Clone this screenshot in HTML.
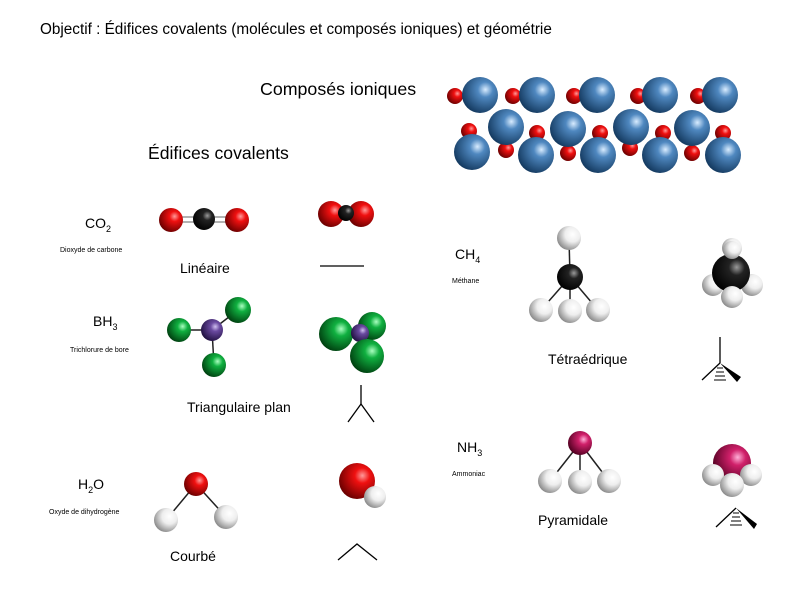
<!DOCTYPE html>
<html><head><meta charset="utf-8"><style>
html,body{margin:0;padding:0;background:#fff;width:800px;height:600px;overflow:hidden}
svg{display:block}
text{font-family:"Liberation Sans",sans-serif;fill:#000}
</style></head><body>
<svg width="800" height="600" xmlns="http://www.w3.org/2000/svg">
<defs>
<radialGradient id="r" cx="0.65" cy="0.35" r="0.7"><stop offset="0" stop-color="#ff9a9a"/><stop offset="0.3" stop-color="#f01010"/><stop offset="1" stop-color="#6a0000"/></radialGradient>
<radialGradient id="b" cx="0.65" cy="0.35" r="0.7"><stop offset="0" stop-color="#d8ecff"/><stop offset="0.3" stop-color="#4f88c0"/><stop offset="1" stop-color="#143a60"/></radialGradient>
<radialGradient id="k" cx="0.65" cy="0.35" r="0.7"><stop offset="0" stop-color="#9a9a9a"/><stop offset="0.3" stop-color="#222"/><stop offset="1" stop-color="#000"/></radialGradient>
<radialGradient id="g" cx="0.65" cy="0.35" r="0.7"><stop offset="0" stop-color="#aaffc0"/><stop offset="0.3" stop-color="#10b040"/><stop offset="1" stop-color="#004010"/></radialGradient>
<radialGradient id="p" cx="0.65" cy="0.35" r="0.7"><stop offset="0" stop-color="#d0c0f0"/><stop offset="0.3" stop-color="#6a4aa0"/><stop offset="1" stop-color="#201040"/></radialGradient>
<radialGradient id="w" cx="0.65" cy="0.35" r="0.7"><stop offset="0" stop-color="#ffffff"/><stop offset="0.45" stop-color="#eeeeee"/><stop offset="1" stop-color="#8a8a8a"/></radialGradient>
<radialGradient id="m" cx="0.65" cy="0.35" r="0.7"><stop offset="0" stop-color="#ffb0d8"/><stop offset="0.3" stop-color="#d0206a"/><stop offset="1" stop-color="#500020"/></radialGradient>
</defs>

<text x="40" y="34" font-size="15.3">Objectif : Édifices covalents (molécules et composés ioniques) et géométrie</text>
<text x="260" y="95" font-size="17.8">Composés ioniques</text>
<text x="148" y="159" font-size="17.6">Édifices covalents</text>

<g>
<circle cx="455" cy="96" r="8" fill="url(#r)"/><circle cx="513" cy="96" r="8" fill="url(#r)"/><circle cx="574" cy="96" r="8" fill="url(#r)"/><circle cx="638" cy="96" r="8" fill="url(#r)"/><circle cx="698" cy="96" r="8" fill="url(#r)"/>
<circle cx="480" cy="95" r="18" fill="url(#b)"/><circle cx="537" cy="95" r="18" fill="url(#b)"/><circle cx="597" cy="95" r="18" fill="url(#b)"/><circle cx="660" cy="95" r="18" fill="url(#b)"/><circle cx="720" cy="95" r="18" fill="url(#b)"/>
<circle cx="506" cy="150" r="8" fill="url(#r)"/><circle cx="568" cy="153" r="8" fill="url(#r)"/><circle cx="630" cy="148" r="8" fill="url(#r)"/><circle cx="692" cy="153" r="8" fill="url(#r)"/>
<circle cx="469" cy="131" r="8" fill="url(#r)"/><circle cx="537" cy="133" r="8" fill="url(#r)"/><circle cx="600" cy="133" r="8" fill="url(#r)"/><circle cx="663" cy="133" r="8" fill="url(#r)"/><circle cx="723" cy="133" r="8" fill="url(#r)"/>
<circle cx="506" cy="127" r="18" fill="url(#b)"/><circle cx="568" cy="129" r="18" fill="url(#b)"/><circle cx="631" cy="127" r="18" fill="url(#b)"/><circle cx="692" cy="128" r="18" fill="url(#b)"/>
<circle cx="472" cy="152" r="18" fill="url(#b)"/><circle cx="536" cy="155" r="18" fill="url(#b)"/><circle cx="598" cy="155" r="18" fill="url(#b)"/><circle cx="660" cy="155" r="18" fill="url(#b)"/><circle cx="723" cy="155" r="18" fill="url(#b)"/>
</g>

<text x="85" y="228" font-size="14">CO<tspan font-size="9" dy="4">2</tspan></text>
<text x="60" y="252" font-size="7">Dioxyde de carbone</text>
<line x1="171" y1="217" x2="237" y2="217" stroke="#999" stroke-width="1.5"/><line x1="171" y1="222" x2="237" y2="222" stroke="#999" stroke-width="1.5"/>
<circle cx="171" cy="220" r="12" fill="url(#r)"/><circle cx="237" cy="220" r="12" fill="url(#r)"/><circle cx="204" cy="219" r="11" fill="url(#k)"/>
<circle cx="331" cy="214" r="13" fill="url(#r)"/><circle cx="361" cy="214" r="13" fill="url(#r)"/><circle cx="346" cy="213" r="8" fill="url(#k)"/>
<text x="180" y="273" font-size="14">Linéaire</text>
<line x1="320" y1="266" x2="364" y2="266" stroke="#000" stroke-width="1.3"/>

<text x="93" y="326" font-size="14">BH<tspan font-size="9" dy="4">3</tspan></text>
<text x="70" y="352" font-size="7">Trichlorure de bore</text>
<g stroke="#222" stroke-width="1.5"><line x1="212" y1="330" x2="238" y2="310"/><line x1="212" y1="330" x2="179" y2="330"/><line x1="212" y1="330" x2="214" y2="365"/></g>
<circle cx="179" cy="330" r="12" fill="url(#g)"/><circle cx="214" cy="365" r="12" fill="url(#g)"/><circle cx="212" cy="330" r="11" fill="url(#p)"/><circle cx="238" cy="310" r="13" fill="url(#g)"/>
<circle cx="372" cy="326" r="14" fill="url(#g)"/><circle cx="336" cy="334" r="17" fill="url(#g)"/><circle cx="360" cy="333" r="9" fill="url(#p)"/><circle cx="367" cy="356" r="17" fill="url(#g)"/>
<text x="187" y="412" font-size="14">Triangulaire plan</text>
<g stroke="#000" stroke-width="1.3"><line x1="361" y1="385" x2="361" y2="404"/><line x1="361" y1="404" x2="348" y2="422"/><line x1="361" y1="404" x2="374" y2="422"/></g>

<text x="78" y="489" font-size="14">H<tspan font-size="9" dy="4">2</tspan><tspan dy="-4">O</tspan></text>
<text x="49" y="514" font-size="7">Oxyde de dihydrogène</text>
<g stroke="#222" stroke-width="1.5"><line x1="196" y1="484" x2="166" y2="520"/><line x1="196" y1="484" x2="226" y2="517"/></g>
<circle cx="196" cy="484" r="12" fill="url(#r)"/><circle cx="166" cy="520" r="12" fill="url(#w)"/><circle cx="226" cy="517" r="12" fill="url(#w)"/>
<circle cx="357" cy="481" r="18" fill="url(#r)"/><circle cx="375" cy="497" r="11" fill="url(#w)"/>
<text x="170" y="561" font-size="14">Courbé</text>
<polyline points="338,560 357,544 377,560" fill="none" stroke="#000" stroke-width="1.3"/>

<text x="455" y="259" font-size="14">CH<tspan font-size="9" dy="4">4</tspan></text>
<text x="452" y="283" font-size="7">Méthane</text>
<g stroke="#222" stroke-width="1.5"><line x1="570" y1="277" x2="569" y2="238"/><line x1="570" y1="277" x2="541" y2="310"/><line x1="570" y1="277" x2="570" y2="311"/><line x1="570" y1="277" x2="598" y2="310"/></g>
<circle cx="569" cy="238" r="12" fill="url(#w)"/><circle cx="570" cy="277" r="13" fill="url(#k)"/>
<circle cx="541" cy="310" r="12" fill="url(#w)"/><circle cx="598" cy="310" r="12" fill="url(#w)"/><circle cx="570" cy="311" r="12" fill="url(#w)"/>
<circle cx="732" cy="248" r="10" fill="url(#w)"/><circle cx="713" cy="285" r="11" fill="url(#w)"/><circle cx="752" cy="285" r="11" fill="url(#w)"/>
<circle cx="731" cy="273" r="19" fill="url(#k)"/><circle cx="732" cy="297" r="11" fill="url(#w)"/><circle cx="732" cy="250" r="9" fill="url(#w)"/>
<text x="548" y="364" font-size="14">Tétraédrique</text>
<g stroke="#000" stroke-width="1.3"><line x1="720" y1="337" x2="720" y2="363"/><line x1="720" y1="363" x2="702" y2="380"/></g>
<polygon points="720,363 737,382 741,377" fill="#000"/>
<g stroke="#000" stroke-width="1"><line x1="717" y1="368" x2="723" y2="368"/><line x1="716" y1="372" x2="724" y2="372"/><line x1="715" y1="376" x2="725" y2="376"/><line x1="714" y1="380" x2="726" y2="380"/></g>

<text x="457" y="452" font-size="14">NH<tspan font-size="9" dy="4">3</tspan></text>
<text x="452" y="476" font-size="7">Ammoniac</text>
<g stroke="#222" stroke-width="1.5"><line x1="580" y1="443" x2="550" y2="481"/><line x1="580" y1="443" x2="580" y2="482"/><line x1="580" y1="443" x2="609" y2="481"/></g>
<circle cx="580" cy="443" r="12" fill="url(#m)"/><circle cx="550" cy="481" r="12" fill="url(#w)"/><circle cx="609" cy="481" r="12" fill="url(#w)"/><circle cx="580" cy="482" r="12" fill="url(#w)"/>
<circle cx="732" cy="463" r="19" fill="url(#m)"/><circle cx="713" cy="475" r="11" fill="url(#w)"/><circle cx="751" cy="475" r="11" fill="url(#w)"/><circle cx="732" cy="485" r="12" fill="url(#w)"/>
<text x="538" y="525" font-size="14">Pyramidale</text>
<line x1="716" y1="527" x2="736" y2="508" stroke="#000" stroke-width="1.3"/>
<polygon points="736,508 754,529 757,524" fill="#000"/>
<g stroke="#000" stroke-width="1"><line x1="733" y1="513" x2="739" y2="513"/><line x1="732" y1="517" x2="740" y2="517"/><line x1="731" y1="521" x2="741" y2="521"/><line x1="730" y1="525" x2="742" y2="525"/></g>
</svg>
</body></html>
